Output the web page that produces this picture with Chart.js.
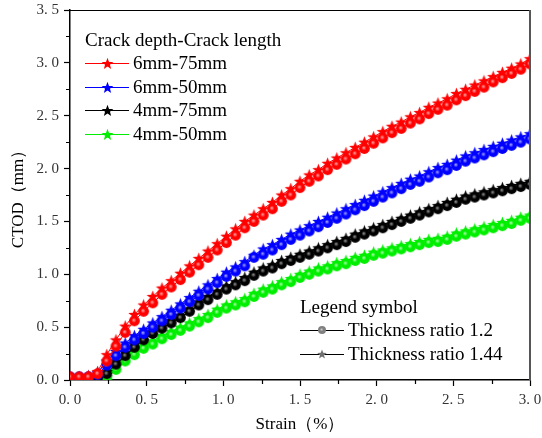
<!DOCTYPE html>
<html>
<head>
<meta charset="utf-8">
<script src="https://cdn.jsdelivr.net/npm/chart.js@4.4.0/dist/chart.umd.min.js"></script>
<style>
  html, body { margin: 0; padding: 0; background: #fff; }
  #wrap { position: relative; width: 542px; height: 438px; }
  #c { position: absolute; left: 0; top: 0; }
  .leg { position: absolute; font-family: 'Liberation Serif', 'Times New Roman', serif; font-size: 19px; color: #000; white-space: nowrap; }
  .leg .row { display: flex; align-items: center; height: 23.5px; }
  .leg canvas { display: block; margin-right: 4px; }
</style>
</head>
<body>
<div id="wrap">
  <canvas id="c" width="542" height="438"></canvas>
  <div class="leg" id="leg1" style="left:85px;top:28px"></div>
  <div class="leg" id="leg2" style="left:300px;top:295px"></div>
</div>
<script>
// ---- data ----
const strain = [0, 0.06, 0.12, 0.18, 0.24, 0.30, 0.36, 0.42, 0.48, 0.54, 0.60, 0.66, 0.72, 0.78, 0.84, 0.90, 0.96,
  1.02, 1.08, 1.14, 1.20, 1.26, 1.32, 1.38, 1.44, 1.50, 1.56, 1.62, 1.68, 1.74, 1.80, 1.86, 1.92, 1.98,
  2.04, 2.10, 2.16, 2.22, 2.28, 2.34, 2.40, 2.46, 2.52, 2.58, 2.64, 2.70, 2.76, 2.82, 2.88, 2.94, 3.00];

// 6mm-75mm
const red144 = [0.03,0.03,0.04,0.08,0.24,0.38,0.51,0.62,0.71,0.79,0.87,0.94,1.01,1.08,1.15,1.22,1.29,1.36,1.43,1.50,1.56,1.62,1.68,1.75,1.81,1.88,1.94,1.99,2.05,2.10,2.15,2.20,2.25,2.30,2.35,2.40,2.44,2.49,2.53,2.58,2.62,2.66,2.71,2.75,2.79,2.83,2.87,2.91,2.95,2.99,3.04];
const red12  = [0.03,0.03,0.03,0.06,0.18,0.32,0.45,0.56,0.65,0.73,0.81,0.88,0.95,1.02,1.09,1.16,1.23,1.30,1.37,1.44,1.50,1.56,1.62,1.69,1.75,1.82,1.88,1.93,1.99,2.04,2.09,2.14,2.19,2.24,2.29,2.34,2.38,2.43,2.47,2.52,2.56,2.60,2.65,2.69,2.73,2.77,2.82,2.86,2.90,2.94,2.99];
// 6mm-50mm
const blue144 = [0.03,0.03,0.04,0.07,0.18,0.27,0.35,0.42,0.48,0.54,0.60,0.66,0.72,0.78,0.84,0.90,0.96,1.02,1.07,1.12,1.18,1.24,1.28,1.33,1.38,1.42,1.46,1.50,1.54,1.58,1.62,1.66,1.70,1.74,1.78,1.82,1.86,1.90,1.93,1.97,2.01,2.04,2.08,2.12,2.15,2.18,2.21,2.24,2.27,2.30,2.33];
const blue12  = [0.03,0.03,0.03,0.05,0.14,0.23,0.31,0.38,0.44,0.50,0.56,0.62,0.68,0.74,0.80,0.86,0.92,0.98,1.03,1.08,1.16,1.19,1.23,1.28,1.33,1.37,1.41,1.45,1.49,1.53,1.57,1.61,1.65,1.69,1.73,1.77,1.81,1.85,1.88,1.92,1.96,1.99,2.03,2.07,2.10,2.13,2.16,2.19,2.22,2.25,2.28];
// 4mm-75mm
const black144 = [0.01,0.01,0.01,0.02,0.08,0.18,0.26,0.34,0.41,0.46,0.51,0.56,0.61,0.67,0.74,0.79,0.84,0.89,0.93,0.97,1.02,1.06,1.09,1.13,1.16,1.19,1.22,1.25,1.28,1.31,1.34,1.38,1.41,1.44,1.47,1.50,1.53,1.56,1.59,1.62,1.65,1.68,1.71,1.74,1.76,1.78,1.80,1.82,1.84,1.86,1.88];
const black12  = [0.01,0.01,0.01,0.02,0.06,0.15,0.23,0.31,0.38,0.44,0.49,0.54,0.59,0.65,0.71,0.76,0.81,0.86,0.90,0.94,0.99,1.03,1.06,1.10,1.13,1.16,1.19,1.22,1.25,1.28,1.31,1.35,1.38,1.41,1.44,1.47,1.50,1.53,1.56,1.59,1.62,1.65,1.68,1.71,1.73,1.75,1.77,1.79,1.81,1.83,1.85];
// 4mm-50mm
const green144 = [0.01,0.01,0.01,0.01,0.03,0.13,0.21,0.27,0.33,0.37,0.42,0.46,0.50,0.54,0.58,0.62,0.67,0.71,0.74,0.77,0.82,0.86,0.89,0.93,0.96,1.00,1.03,1.06,1.08,1.11,1.13,1.16,1.18,1.21,1.23,1.25,1.27,1.29,1.31,1.33,1.34,1.36,1.39,1.41,1.43,1.45,1.47,1.49,1.51,1.54,1.56];
const green12  = [0.01,0.01,0.01,0.01,0.02,0.10,0.18,0.24,0.30,0.34,0.39,0.43,0.47,0.51,0.55,0.59,0.64,0.68,0.71,0.74,0.79,0.83,0.86,0.90,0.93,0.97,1.00,1.03,1.05,1.08,1.10,1.13,1.15,1.18,1.20,1.22,1.24,1.26,1.28,1.30,1.31,1.33,1.36,1.38,1.40,1.42,1.44,1.46,1.48,1.51,1.53];

const seriesNames = ['6mm-75mm', '6mm-50mm', '4mm-75mm', '4mm-50mm'];
const ratioNames = ['Thickness ratio 1.2', 'Thickness ratio 1.44'];
const starSets = [red144, blue144, black144, green144];
const ballSets = [red12, blue12, black12, green12];

// ---- styles ----
const colors = ['#ff0000', '#0000ff', '#000000', '#00ee00'];
const highlights = ['#ffb4b4', '#b4b4ff', '#a0a0a0', '#c0ffc0'];
const FONT = "'Liberation Serif', 'Times New Roman', serif";

// filled 5-point star as canvas
function makeStar(color, r) {
  const s = Math.ceil(r * 2 + 2);
  const cv = document.createElement('canvas');
  cv.width = s; cv.height = s;
  const g = cv.getContext('2d');
  const c = s / 2;
  g.beginPath();
  for (let i = 0; i < 10; i++) {
    const rad = i % 2 === 0 ? r : r * 0.42;
    const a = -Math.PI / 2 + i * Math.PI / 5;
    const px = c + rad * Math.cos(a), py = c + 0.5 + rad * Math.sin(a);
    if (i === 0) g.moveTo(px, py); else g.lineTo(px, py);
  }
  g.closePath();
  g.fillStyle = color;
  g.fill();
  return cv;
}

// shaded ball as canvas
function makeBall(color, hl, r) {
  const s = Math.ceil(r * 2 + 2);
  const cv = document.createElement('canvas');
  cv.width = s; cv.height = s;
  const g = cv.getContext('2d');
  const c = s / 2;
  const grad = g.createRadialGradient(c - r * 0.15, c - r * 0.15, 0, c, c, r);
  grad.addColorStop(0, hl);
  grad.addColorStop(0.45, color);
  grad.addColorStop(1, color);
  g.beginPath();
  g.arc(c, c, r, 0, Math.PI * 2);
  g.fillStyle = grad;
  g.fill();
  return cv;
}

function pts(arr) {
  return strain.map((s, i) => ({ x: s, y: arr[i] }));
}

const datasets = [];
colors.forEach((col, k) => {
  datasets.push({
    label: seriesNames[k] + ' / 1.2',
    data: pts(ballSets[k]),
    borderColor: col, borderWidth: 1,
    pointStyle: makeBall(col, highlights[k], 5.4),
    pointRadius: 5, pointHoverRadius: 5
  });
  datasets.push({
    label: seriesNames[k] + ' / 1.44',
    data: pts(starSets[k]),
    borderColor: col, borderWidth: 1,
    pointStyle: makeStar(col, 6.5),
    pointRadius: 6, pointHoverRadius: 6
  });
});

function fmt(v) {
  return v.toFixed(1).replace('.', '. ');
}

// box frame + minor ticks
const frame = {
  id: 'frame',
  afterDraw(chart) {
    const { ctx, chartArea: a, scales: { x, y } } = chart;
    ctx.save();
    ctx.strokeStyle = '#000';
    ctx.lineWidth = 1.2;
    ctx.beginPath();
    ctx.moveTo(a.left, a.top + 0.5);
    ctx.lineTo(a.right, a.top + 0.5);
    ctx.stroke();
    ctx.strokeStyle = '#555';
    ctx.lineWidth = 2;
    ctx.beginPath();
    ctx.moveTo(a.right, a.top);
    ctx.lineTo(a.right, a.bottom);
    ctx.stroke();
    ctx.strokeStyle = '#000';
    ctx.lineWidth = 1.2;
    ctx.beginPath();
    for (let v = 0.25; v < 3; v += 0.5) {
      const px = Math.round(x.getPixelForValue(v)) + 0.5;
      ctx.moveTo(px, a.bottom);
      ctx.lineTo(px, a.bottom + 4);
    }
    for (let v = 0.25; v < 3.5; v += 0.5) {
      const py = Math.round(y.getPixelForValue(v)) + 0.5;
      ctx.moveTo(a.left, py);
      ctx.lineTo(a.left - 4, py);
    }
    ctx.stroke();
    ctx.restore();
  }
};

new Chart(document.getElementById('c'), {
  type: 'line',
  data: { datasets },
  options: {
    responsive: false,
    animation: false,
    devicePixelRatio: 1,
    layout: { padding: { left: 0, top: 10, right: 12, bottom: 0 } },
    plugins: { legend: { display: false }, tooltip: { enabled: false } },
    scales: {
      x: {
        type: 'linear', min: 0, max: 3,
        afterFit(s) { s.height = 58; s.paddingLeft = 0; s.paddingRight = 0; },
        ticks: { stepSize: 0.5, padding: 5, color: '#333', font: { family: FONT, size: 15 }, callback: fmt, maxRotation: 0, autoSkip: false },
        grid: { drawOnChartArea: false, tickLength: 6, tickColor: '#000', tickWidth: 1.2 },
        border: { color: '#000', width: 1.5 },
        title: { display: true, text: 'Strain（%）', color: '#000', font: { family: FONT, size: 17 }, padding: { top: 0, bottom: 3 } }
      },
      y: {
        type: 'linear', min: 0, max: 3.5,
        afterFit(s) { s.width = 70; s.paddingTop = 0; s.paddingBottom = 0; },
        ticks: { stepSize: 0.5, padding: 5, color: '#333', font: { family: FONT, size: 15 }, callback: fmt, autoSkip: false },
        grid: { drawOnChartArea: false, tickLength: 6, tickColor: '#000', tickWidth: 1.2 },
        border: { color: '#000', width: 1.5 },
        title: { display: true, text: 'CTOD（mm）', color: '#000', font: { family: FONT, size: 17 }, padding: { top: 8, bottom: 0 } }
      }
    }
  },
  plugins: [frame]
});

// ---- legends (HTML text) ----
function symbol(w, lineColor, marker) {
  const cv = document.createElement('canvas');
  cv.width = w; cv.height = 16;
  const g = cv.getContext('2d');
  g.strokeStyle = lineColor;
  g.lineWidth = 1;
  g.beginPath();
  g.moveTo(0, 8.5); g.lineTo(w, 8.5);
  g.stroke();
  g.drawImage(marker, Math.round(w / 2 - marker.width / 2), Math.round(8 - marker.height / 2));
  return cv;
}

function addRow(box, cv, text) {
  const row = document.createElement('div');
  row.className = 'row';
  if (cv) row.appendChild(cv);
  const sp = document.createElement('span');
  sp.textContent = text;
  row.appendChild(sp);
  box.appendChild(row);
}

const leg1 = document.getElementById('leg1');
addRow(leg1, null, 'Crack depth-Crack length');
seriesNames.forEach((n, k) => addRow(leg1, symbol(44, colors[k], makeStar(colors[k], 6.2)), n));

const leg2 = document.getElementById('leg2');
addRow(leg2, null, 'Legend symbol');
addRow(leg2, symbol(44, '#000', makeBall('#808080', '#d0d0d0', 4)), ratioNames[0]);
addRow(leg2, symbol(44, '#000', makeStar('#707070', 5)), ratioNames[1]);
</script>
</body>
</html>
